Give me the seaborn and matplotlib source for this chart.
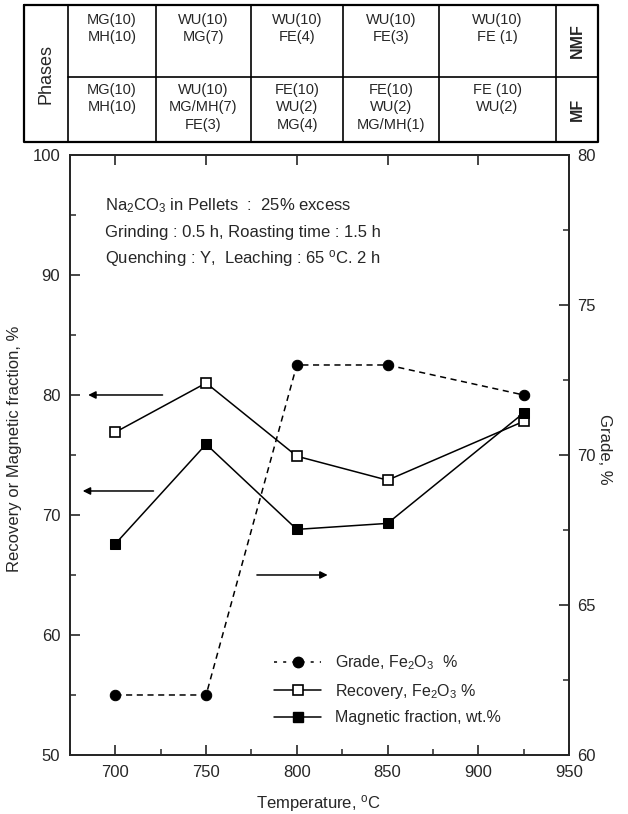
import pandas as pd
import matplotlib.pyplot as plt
import seaborn as sns
from matplotlib.lines import Line2D
from matplotlib.ticker import MultipleLocator

# values
temps = [700, 750, 800, 850, 925]
grade = [62.0, 62.0, 73.0, 73.0, 72.0]           # right axis, Fe2O3 %
recovery = [76.9, 81.0, 74.9, 72.9, 77.8]        # left axis
mag_fraction = [67.6, 75.9, 68.8, 69.3, 78.5]    # left axis

# phase table above the plot
nmf_phases = ['MG(10)\nMH(10)', 'WU(10)\nMG(7)', 'WU(10)\nFE(4)',
              'WU(10)\nFE(3)', 'WU(10)\nFE (1)']
mf_phases = ['MG(10)\nMH(10)', 'WU(10)\nMG/MH(7)\nFE(3)', 'FE(10)\nWU(2)\nMG(4)',
             'FE(10)\nWU(2)\nMG/MH(1)', 'FE (10)\nWU(2)']
row_labels = ['NMF', 'MF']

conditions = ['Na$_2$CO$_3$ in Pellets  :  25% excess',
              'Grinding : 0.5 h, Roasting time : 1.5 h',
              'Quenching : Y,  Leaching : 65 $^{\\rm o}$C. 2 h']

df = pd.DataFrame({'Temperature': temps, 'Grade': grade,
                   'Recovery': recovery, 'Magnetic': mag_fraction})

sns.set_style('ticks')
plt.rcParams['font.family'] = ['Liberation Sans', 'DejaVu Sans']
plt.rcParams['mathtext.fontset'] = 'custom'
plt.rcParams['mathtext.rm'] = 'Liberation Sans'
plt.rcParams['mathtext.it'] = 'Liberation Sans:italic'
plt.rcParams['axes.linewidth'] = 1.3

fig = plt.figure(figsize=(6.28, 8.14), dpi=100)
fig.patch.set_facecolor('white')

# ---- table (drawn in pixel coords of the figure) ----
tab = fig.add_axes([0, 0, 1, 1])
tab.set_xlim(0, 628)
tab.set_ylim(814, 0)
tab.axis('off')
cols = [24, 68, 156, 251, 343, 439, 556, 598]
top, mid, bot = 5, 77, 142
tab.plot([cols[0], cols[-1], cols[-1], cols[0], cols[0]], [top, top, bot, bot, top],
         color='black', lw=1.6)
for c in cols[1:-1]:
    tab.plot([c, c], [top, bot], color='black', lw=1.2)
tab.plot([cols[1], cols[-1]], [mid, mid], color='black', lw=1.2)
for i in range(5):
    cx = (cols[i + 1] + cols[i + 2]) / 2
    tab.text(cx, 13, nmf_phases[i], ha='center', va='top', fontsize=10.5, linespacing=1.3)
    tab.text(cx, 83, mf_phases[i], ha='center', va='top', fontsize=10.5, linespacing=1.3)
tab.text((cols[0] + cols[1]) / 2, (top + bot) / 2, 'Phases', rotation=90,
         ha='center', va='center', fontsize=13)
tab.text((cols[-2] + cols[-1]) / 2, (top + mid) / 2, row_labels[0], rotation=90,
         ha='center', va='center', fontsize=11.5, fontweight='bold')
tab.text((cols[-2] + cols[-1]) / 2, (mid + bot) / 2, row_labels[1], rotation=90,
         ha='center', va='center', fontsize=11.5, fontweight='bold')

# ---- main plot ----
ax = fig.add_axes([0.1115, 0.0725, 0.7945, 0.7371])
ax2 = ax.twinx()

sns.lineplot(data=df, x='Temperature', y='Recovery', ax=ax, color='black', lw=1.1,
             marker='s', ms=7.5, mfc='white', mec='black', mew=1.2)
sns.lineplot(data=df, x='Temperature', y='Magnetic', ax=ax, color='black', lw=1.1,
             marker='s', ms=7, mfc='black', mec='black')
sns.lineplot(data=df, x='Temperature', y='Grade', ax=ax2, color='black', lw=1.1,
             linestyle=(0, (4, 3)), marker='o', ms=7.5, mfc='black', mec='black')

ax.set_xlim(675, 950)
ax.set_ylim(50, 100)
ax2.set_ylim(60, 80)

ax.xaxis.set_major_locator(MultipleLocator(50))
ax.xaxis.set_minor_locator(MultipleLocator(25))
ax.yaxis.set_major_locator(MultipleLocator(10))
ax.yaxis.set_minor_locator(MultipleLocator(5))
ax2.yaxis.set_major_locator(MultipleLocator(5))
ax2.yaxis.set_minor_locator(MultipleLocator(2.5))

ax.tick_params(axis='both', which='major', direction='in', length=7, width=1.2,
               labelsize=12, pad=7)
ax.tick_params(axis='both', which='minor', direction='in', length=4, width=1.1)
ax.tick_params(axis='x', which='major', top=True)
ax.tick_params(axis='x', which='minor', top=False)
ax.tick_params(axis='y', which='both', right=False)
ax2.tick_params(axis='y', which='major', direction='in', length=7, width=1.2,
                labelsize=12, pad=6)
ax2.tick_params(axis='y', which='minor', direction='in', length=4, width=1.1)

ax.set_xlabel('Temperature, $^{\\rm o}$C', fontsize=12)
ax.set_ylabel('Recovery or Magnetic fraction, %', fontsize=12)
ax2.set_ylabel('Grade, %', fontsize=12, rotation=-90, va='center')
ax.xaxis.set_label_coords(0.497, -0.064)
ax.yaxis.set_label_coords(-0.096, 0.51)
ax2.yaxis.set_label_coords(1.072, 0.51)

for spine in ax2.spines.values():
    spine.set_linewidth(1.3)

# condition notes
for i, line in enumerate(conditions):
    ax.text(0.07, 0.915 - i * 0.044, line, transform=ax.transAxes, fontsize=12,
            ha='left', va='center')

# arrows pointing to the axis each curve belongs to
arrow_y = [80, 72, 65]
arrow_from = [726, 721, 778]
arrow_to = [685, 682, 817]
for y, x0, x1 in zip(arrow_y, arrow_from, arrow_to):
    ax.annotate('', xy=(x1, y), xytext=(x0, y),
                arrowprops=dict(arrowstyle='-|>', color='black', lw=1.1,
                                mutation_scale=11, shrinkA=0, shrinkB=0))

handles = [
    Line2D([], [], color='black', lw=1.1, ls=(0, (2, 4)), marker='o', ms=7.5),
    Line2D([], [], color='black', lw=1.1, marker='s', ms=7.5, mfc='white', mew=1.2),
    Line2D([], [], color='black', lw=1.1, marker='s', ms=7),
]
labels = ['Grade, Fe$_2$O$_3$  %', 'Recovery, Fe$_2$O$_3$ %', 'Magnetic fraction, wt.%']
ax.legend(handles, labels, loc='upper left', bbox_to_anchor=(0.397, 0.18),
          frameon=False, fontsize=11.5, handlelength=2.9, handletextpad=0.9,
          labelspacing=0.6, borderaxespad=0)

plt.savefig('out.png', dpi=100)
